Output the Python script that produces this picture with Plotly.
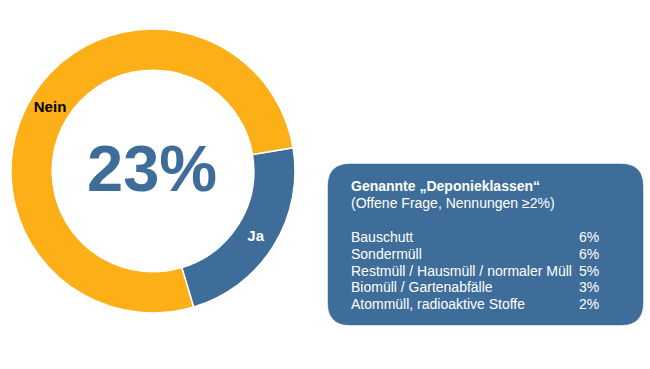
import plotly.graph_objects as go

# Data
answers = ["Ja", "Nein"]
shares = [23, 77]
center_label = "23%"

box_title = "Genannte „Deponieklassen“"
box_subtitle = "(Offene Frage, Nennungen ≥2%)"
classes = ["Bauschutt", "Sondermüll", "Restmüll / Hausmüll / normaler Müll",
           "Biomüll / Gartenabfälle", "Atommüll, radioaktive Stoffe"]
class_pct = ["6%", "6%", "5%", "3%", "2%"]

W, H = 650, 369
BLUE = "#3E6D99"
ORANGE = "#FCAF17"
FONT = "Arial, Liberation Sans, sans-serif"

def px(x):
    return x / W

def py(y):
    return 1 - y / H

fig = go.Figure()
fig.add_trace(go.Pie(
    labels=answers,
    values=shares,
    hole=0.71,
    sort=False,
    direction="clockwise",
    rotation=80.6,
    marker=dict(colors=[BLUE, ORANGE], line=dict(color="white", width=1.5)),
    textinfo="label",
    textposition="inside",
    insidetextorientation="horizontal",
    textfont=dict(family=FONT, size=15, color=["white", "black"], weight="bold"),
    domain=dict(x=[px(11), px(295)], y=[py(313), py(29)]),
    showlegend=False,
    hoverinfo="label+percent",
))

annotations = [
    dict(x=px(152), y=py(168), xref="paper", yref="paper", text=f"<b>{center_label}</b>",
         showarrow=False, font=dict(family=FONT, size=65, color=BLUE),
         xanchor="center", yanchor="middle"),
    dict(x=px(349), y=py(186), xref="paper", yref="paper", text=f"<b>{box_title}</b>",
         showarrow=False, font=dict(family=FONT, size=14, color="white"),
         xanchor="left", yanchor="middle"),
    dict(x=px(349), y=py(203), xref="paper", yref="paper", text=box_subtitle,
         showarrow=False, font=dict(family=FONT, size=14, color="white"),
         xanchor="left", yanchor="middle"),
]
row_y = [237, 254, 270.5, 287, 304]
for name, pct, yy in zip(classes, class_pct, row_y):
    annotations.append(dict(x=px(349), y=py(yy), xref="paper", yref="paper", text=name,
                            showarrow=False, font=dict(family=FONT, size=14, color="white"),
                            xanchor="left", yanchor="middle"))
    annotations.append(dict(x=px(601), y=py(yy), xref="paper", yref="paper", text=pct,
                            showarrow=False, font=dict(family=FONT, size=14, color="white"),
                            xanchor="right", yanchor="middle"))

# rounded rectangle box
x0, x1, y0, y1, r = 328, 643, 164, 325, 22
def P(x, y):
    return f"{px(x):.5f},{py(y):.5f}"
path = (f"M {P(x0 + r, y0)} L {P(x1 - r, y0)} Q {P(x1, y0)} {P(x1, y0 + r)} "
        f"L {P(x1, y1 - r)} Q {P(x1, y1)} {P(x1 - r, y1)} "
        f"L {P(x0 + r, y1)} Q {P(x0, y1)} {P(x0, y1 - r)} "
        f"L {P(x0, y0 + r)} Q {P(x0, y0)} {P(x0 + r, y0)} Z")

fig.update_layout(
    width=W, height=H,
    margin=dict(l=0, r=0, t=0, b=0),
    paper_bgcolor="white",
    plot_bgcolor="white",
    shapes=[dict(type="path", path=path, xref="paper", yref="paper",
                 fillcolor=BLUE, line=dict(color=BLUE, width=0.5), layer="below")],
    annotations=annotations,
)

fig.write_html("out.html", config=dict(displayModeBar=False),
               post_script="document.body.style.margin='0';document.body.style.overflow='hidden';")
